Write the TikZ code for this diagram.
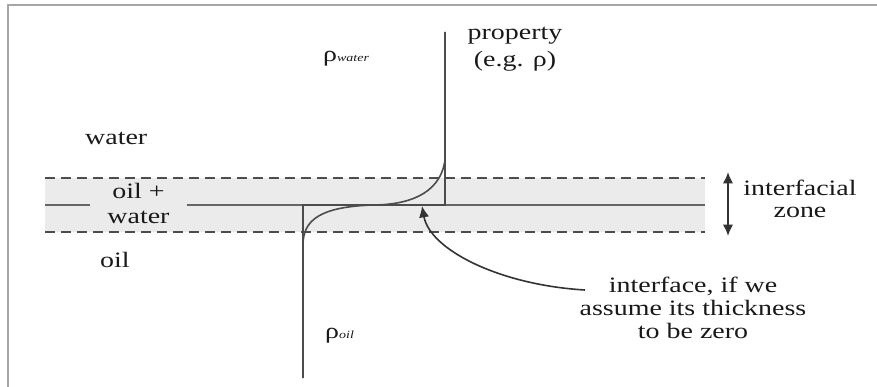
\documentclass[tikz,border=0pt]{standalone}
\usepackage{fontspec}
\setmainfont{Liberation Serif}[FakeStretch=1.27]
\usetikzlibrary{arrows.meta,positioning}

\newcommand{\subtxt}[1]{{\fontsize{11}{11}\selectfont\itshape #1}}

\begin{document}
\begin{tikzpicture}[
  x=1pt, y=-1pt,
  font=\fontsize{22}{23}\selectfont,
  >={Latex[length=4mm,width=3.6mm]},
  every node/.style={text=black!90},
  lbl/.style={inner sep=0pt, align=center},
  tag/.style={inner sep=0pt, anchor=base west},
  frame/.style={line width=1.6pt, draw=black!35},
  zone/.style={fill=black!8},
  zoneline/.style={line width=1.8pt, draw=black!70, dash pattern=on 10pt off 6pt},
  midline/.style={line width=1.3pt, draw=black!60},
  profile/.style={line width=1.6pt, draw=black!70},
  arrow/.style={->, line width=1.6pt, draw=black!80}
]
\useasboundingbox (0,0) rectangle (877,387);

% frame
\draw[frame] (8,387) -- (8,5) -- (877,5);

% interfacial zone
\fill[zone] (45,178) rectangle (705,232);
\draw[zoneline] (45,178) -- (705,178);
\draw[zoneline] (45,232) -- (705,232);

% labels
\node[tag] (water) at (85,145) {water};
\node[lbl, inner xsep=17pt, font=\fontsize{22}{25}\selectfont] (mix) at (138.5,203) {oil +\\water};
\node[tag] (oil) at (100,267) {oil};
\node[tag] (rhow) at (323,62) {ρ\subtxt{water}};
\node[tag] (rhoo) at (325,338) {ρ\subtxt{oil}};
\node[lbl, font=\fontsize{22}{27}\selectfont] (prop) at (515,49.6) {property\\(e.g. ρ)};
\node[lbl, font=\fontsize{22}{22}\selectfont] (zonelbl) at (800,198.5) {interfacial\\zone};
\node[lbl] (note) at (693,307.5) {interface, if we\\assume its thickness\\to be zero};

% sharp interface
\draw[midline] (45,205) -- (mix.west |- 0,205);
\draw[midline] (mix.east |- 0,205) -- (705,205);

% step profile and smooth profile
\coordinate (bot) at (303,378);
\coordinate (top) at (445,32);
\draw[profile] (bot) -- (303,205) -- (445,205) -- (top);
\draw[profile] (bot) -- (303,245)
  .. controls (303,220) and (320,207) .. (372,205)
  .. controls (405,205) and (440,196) .. (445,160) -- (top);

% arrows
\coordinate (ztop) at (728,172);
\coordinate (zbot) at (728,236);
\draw[arrow, <->] (ztop) -- (zbot);
\coordinate (tail) at (585,290);
\coordinate (iface) at (422,206);
\draw[arrow] (tail) .. controls (500,285) and (430,250) .. (iface);

\end{tikzpicture}
\end{document}
